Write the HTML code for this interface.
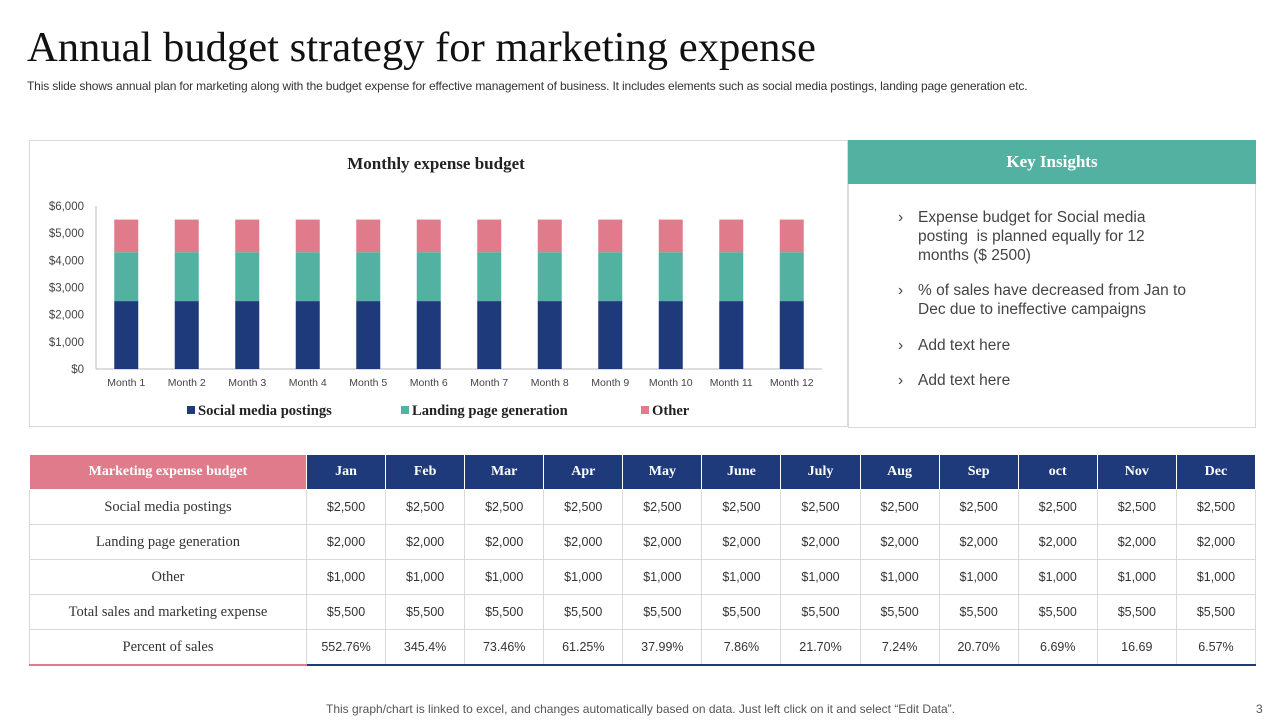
<!DOCTYPE html>
<html><head><meta charset="utf-8"><style>
body{margin:0;width:1280px;height:720px;background:#fff;position:relative;overflow:hidden;font-family:"Liberation Sans",sans-serif}
.abs{position:absolute}
table{border-collapse:collapse;position:absolute;left:29px;top:454px;width:1227px;table-layout:fixed}
td,th{height:34px;text-align:center;font-size:12.5px;color:#333;border:1px solid #d9d9d9;padding:0}
th{background:#1f3a7a;color:#fff;font-family:"Liberation Serif",serif;font-size:14px;font-weight:bold;border:1px solid #fff}
th.first{background:#e07b8c;width:276px}
td.lbl{font-family:"Liberation Serif",serif;font-size:14.5px}
tr:last-child td{border-bottom:2px solid #1f3a7a}
tr:last-child td.lbl{border-bottom:2px solid #e07b8c}
.ins{position:absolute;left:900px;width:298px;font-size:15.5px;color:#444;line-height:19px}
.ins span{position:absolute;left:-2px}
.ins div{margin-left:18px}
</style></head><body>
<div class="abs" style="left:27px;top:23px;font-family:'Liberation Serif',serif;font-size:42.6px;color:#111">Annual budget strategy for marketing expense</div>
<div class="abs" style="left:27px;top:79px;font-size:12px;letter-spacing:-0.15px;color:#333">This slide shows annual plan for marketing along with the budget expense for effective management of business. It includes elements such as social media postings, landing page generation etc.</div>
<div class="abs" style="left:29px;top:140px;width:819px;height:287px;border:1px solid #d9d9d9;box-sizing:border-box"></div>
<svg class="abs" style="left:0;top:0" width="850" height="430" id="chart"></svg>
<div class="abs" style="left:848px;top:140px;width:408px;height:288px;border:1px solid #d9d9d9;box-sizing:border-box"></div>
<div class="abs" style="left:848px;top:140px;width:408px;height:44px;background:#52b1a0;color:#fff;font-family:'Liberation Serif',serif;font-weight:bold;font-size:17px;line-height:44px;text-align:center">Key Insights</div>
<div class="ins" style="top:208px"><span>›</span><div>Expense budget for Social media posting&nbsp; is planned equally for 12 months ($ 2500)</div></div>
<div class="ins" style="top:281px"><span>›</span><div>% of sales have decreased from Jan to Dec due to ineffective campaigns</div></div>
<div class="ins" style="top:336px"><span>›</span><div>Add text here</div></div>
<div class="ins" style="top:371px"><span>›</span><div>Add text here</div></div>
<table>
<tr><th class="first">Marketing expense budget</th><th>Jan</th><th>Feb</th><th>Mar</th><th>Apr</th><th>May</th><th>June</th><th>July</th><th>Aug</th><th>Sep</th><th>oct</th><th>Nov</th><th>Dec</th></tr>
<tr><td class="lbl">Social media postings</td><td>$2,500</td><td>$2,500</td><td>$2,500</td><td>$2,500</td><td>$2,500</td><td>$2,500</td><td>$2,500</td><td>$2,500</td><td>$2,500</td><td>$2,500</td><td>$2,500</td><td>$2,500</td></tr>
<tr><td class="lbl">Landing page generation</td><td>$2,000</td><td>$2,000</td><td>$2,000</td><td>$2,000</td><td>$2,000</td><td>$2,000</td><td>$2,000</td><td>$2,000</td><td>$2,000</td><td>$2,000</td><td>$2,000</td><td>$2,000</td></tr>
<tr><td class="lbl">Other</td><td>$1,000</td><td>$1,000</td><td>$1,000</td><td>$1,000</td><td>$1,000</td><td>$1,000</td><td>$1,000</td><td>$1,000</td><td>$1,000</td><td>$1,000</td><td>$1,000</td><td>$1,000</td></tr>
<tr><td class="lbl">Total sales and marketing expense</td><td>$5,500</td><td>$5,500</td><td>$5,500</td><td>$5,500</td><td>$5,500</td><td>$5,500</td><td>$5,500</td><td>$5,500</td><td>$5,500</td><td>$5,500</td><td>$5,500</td><td>$5,500</td></tr>
<tr><td class="lbl">Percent of sales</td><td>552.76%</td><td>345.4%</td><td>73.46%</td><td>61.25%</td><td>37.99%</td><td>7.86%</td><td>21.70%</td><td>7.24%</td><td>20.70%</td><td>6.69%</td><td>16.69</td><td>6.57%</td></tr>
</table>
<div class="abs" style="left:326px;top:702px;font-size:12px;color:#555">This graph/chart is linked to excel, and changes automatically based on data. Just left click on it and select “Edit Data”.</div>
<div class="abs" style="left:1256px;top:702px;font-size:12px;color:#555">3</div>
<script>
const categories=["Month 1","Month 2","Month 3","Month 4","Month 5","Month 6","Month 7","Month 8","Month 9","Month 10","Month 11","Month 12"];
const social=[2500,2500,2500,2500,2500,2500,2500,2500,2500,2500,2500,2500];
const landing=[1800,1800,1800,1800,1800,1800,1800,1800,1800,1800,1800,1800];
const other=[1200,1200,1200,1200,1200,1200,1200,1200,1200,1200,1200,1200];
const yTicks=[0,1000,2000,3000,4000,5000,6000];
const yLabels=["$0","$1,000","$2,000","$3,000","$4,000","$5,000","$6,000"];
const svg=document.getElementById('chart'),NS='http://www.w3.org/2000/svg';
const x0=96,x1=822,yB=369,yT=206,maxV=6000;
const y=v=>yB-(v/maxV)*(yB-yT);
const bw=(x1-x0)/categories.length;
const xc=i=>x0+bw*(i+0.5);
function mk(t,a,txt){const e=document.createElementNS(NS,t);for(const k in a)e.setAttribute(k,a[k]);if(txt!==undefined)e.textContent=txt;svg.appendChild(e);return e;}
let e=mk('text',{x:436,y:169,'text-anchor':'middle','font-family':'Liberation Serif,serif','font-size':17,'font-weight':'bold',fill:'#222'},'Monthly expense budget');


yTicks.forEach((v,i)=>{const t=mk('text',{x:84,y:y(v)+4,'text-anchor':'end','font-size':11.5,fill:'#444'},yLabels[i]);

});
e=mk('line',{x1:x0,x2:x0,y1:yT,y2:yB,stroke:'#bbb'});


e=mk('line',{x1:x0,x2:x1,y1:yB,y2:yB,stroke:'#bbb'});


const series=[[social,'#1f3a7a'],[landing,'#52b1a0'],[other,'#e07b8c']];
categories.forEach((c,i)=>{let base=0;series.forEach(([arr,col],s)=>{const r=mk('rect',{x:xc(i)-12,y:y(base+arr[i]),width:24,height:y(base)-y(base+arr[i]),fill:col});


base+=arr[i];});
const t=mk('text',{x:xc(i),y:386,'text-anchor':'middle','font-size':10.5,fill:'#444'},c);

});
const leg=[["Social media postings",'#1f3a7a',187],["Landing page generation",'#52b1a0',401],["Other",'#e07b8c',641]];
leg.forEach(([n,col,lx])=>{const g=mk('g',{});

mk('rect',{x:lx,y:406,width:8,height:8,fill:col});
mk('text',{x:lx+11,y:415,'font-family':'Liberation Serif,serif','font-size':14.6,'font-weight':'bold',fill:'#222'},n);});
</script>
</body></html>
